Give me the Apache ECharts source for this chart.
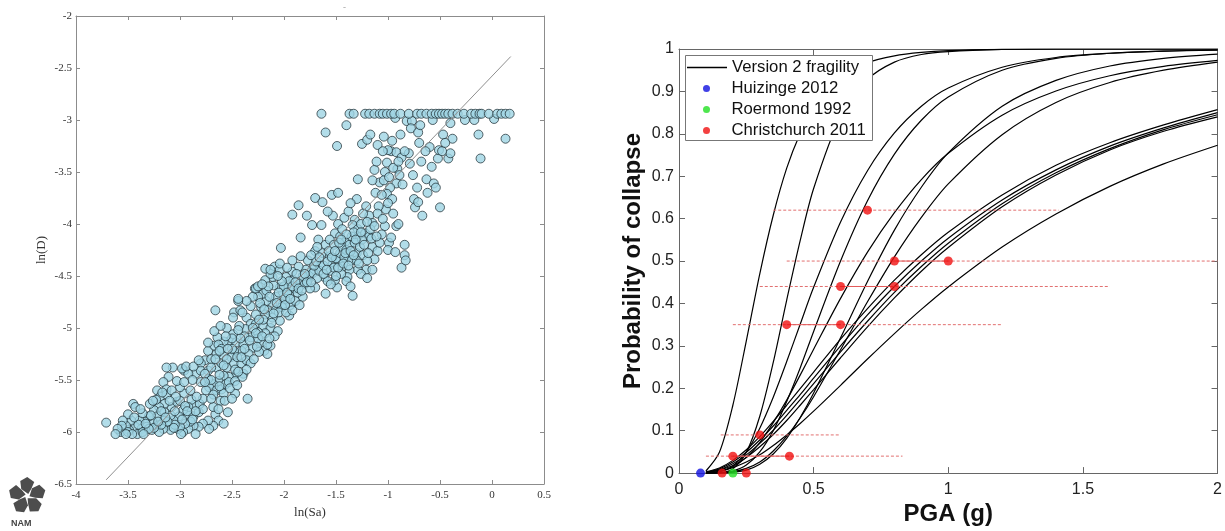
<!DOCTYPE html>
<html>
<head>
<meta charset="utf-8">
<script src="https://cdn.jsdelivr.net/npm/echarts@6/dist/echarts.min.js"></script>
<style>html,body{margin:0;background:#fff}#chart{width:1225px;height:531px}</style>
</head>
<body>
<div id="chart"></div>
<script>
// ---- left panel: ln(D) vs ln(Sa) ----
var capLnD = -2.94;
var cappedLnSa = [-1.64,-1.37,-1.33,-1.22,-1.18,-1.13,-1.08,-1.05,-1.01,-0.97,-0.94,-0.88,-0.80,-0.72,-0.68,-0.63,-0.58,-0.54,-0.51,-0.48,-0.45,-0.42,-0.38,-0.33,-0.27,-0.20,-0.16,-0.12,-0.10,-0.03,0.05,0.09,0.13,0.17];
var lnSaLnD = [
[-1.60,-3.12],[-1.40,-3.05],[-1.49,-3.25],[-1.25,-3.23],[-1.20,-3.19],[-1.17,-3.14],[-1.10,-3.24],[-1.04,-3.16],[-0.97,-3.30],[-0.93,-2.98],[-0.92,-3.31],[-0.88,-3.14],[-0.87,-3.36],[-0.82,-3.01],[-0.77,-3.01],[-0.78,-3.08],[-0.71,-3.12],[-0.70,-3.22],[-0.69,-3.05],[-0.60,-3.26],[-0.57,-3.00],[-0.52,-3.37],[-0.51,-3.29],[-0.47,-3.14],[-0.42,-3.37],[-0.40,-3.32],[-0.40,-3.03],[-0.38,-3.18],[-0.26,-3.00],[-0.17,-3.00],[-0.13,-3.14],[-0.11,-3.37],[0.02,-2.99],[0.13,-3.18],[-1.00,-3.29],[-1.01,-3.41],[-0.91,-3.47],[-0.80,-3.32],[-0.89,-3.53],[-1.03,-3.50],[-1.13,-3.48],[-1.11,-3.40],[-1.08,-3.60],[-0.92,-3.61],[-0.98,-3.65],[-1.01,-3.71],[-0.96,-3.76],[-1.02,-3.86],[-1.09,-3.83],[-1.12,-3.70],[-1.29,-3.57],[-1.30,-3.76],[-1.21,-3.83],[-1.18,-3.92],[-1.32,-3.96],[-1.15,-3.99],[-0.76,-3.53],[-0.72,-3.65],[-0.75,-3.76],[-0.74,-3.84],[-0.71,-3.79],[-0.67,-3.92],[-0.63,-3.57],[-0.62,-3.70],[-0.56,-3.61],[-0.54,-3.65],[-0.50,-3.84],
[-1.70,-3.75],[-1.86,-3.82],[-1.92,-3.91],[-1.54,-3.72],[-1.48,-3.70],[-1.53,-3.92],[-1.42,-3.94],[-1.63,-3.79],[-1.73,-4.01],[-1.64,-4.01],[-1.84,-4.13],[-1.67,-4.15],[-1.51,-4.09],[-1.46,-4.12],[-1.41,-4.17],[-1.48,-4.00],[-1.34,-4.01],[-1.29,-4.05],[-1.29,-4.12],[-1.22,-4.09],[-1.18,-4.12],[-1.15,-4.22],[-1.10,-4.26],[-1.08,-4.18],[-0.99,-4.18],[-0.97,-4.13],[-0.92,-4.02],[-1.03,-4.02],[-0.84,-4.20],[-0.84,-4.30],[-1.13,-4.34],[-1.21,-4.44],[-1.29,-4.44],[-1.15,-4.44],[-1.39,-4.31],[-1.37,-4.44],[-1.34,-4.69],[-1.39,-4.51],[-1.49,-4.61],[-1.60,-4.67],[-1.51,-4.54],[-1.61,-4.51],[-1.70,-4.61],[-1.73,-4.44],[-1.77,-4.35],[-1.84,-4.31],[-1.70,-4.26],[-1.63,-4.28],[-1.56,-4.31],[-1.53,-4.38],[-1.48,-4.35],[-1.44,-4.41],[-1.65,-4.41],[-1.79,-4.44],[-1.86,-4.41],[-1.92,-4.46],[-1.98,-4.51],[-1.91,-4.54],[-1.84,-4.57],[-1.77,-4.54],[-1.96,-4.61],[-2.01,-4.67],[-2.04,-4.61],[-2.08,-4.70],[-2.11,-4.77],[-2.17,-4.74],[-2.20,-4.67],[-2.25,-4.70],[-2.22,-4.80],[-2.15,-4.83],[-2.08,-4.83],[-2.01,-4.77],[-1.94,-4.78],[-1.89,-4.74],[-1.82,-4.70],[-1.95,-4.88],[-2.04,-4.93],[-2.11,-4.90],[-2.18,-4.87],[-2.27,-4.87],[-2.32,-4.79],[-2.30,-4.70],[-2.28,-4.62],[-2.17,-4.64],[-2.10,-4.59],[-2.11,-4.51],[-2.18,-4.54],[-2.09,-4.41],[-2.04,-4.44],[-1.92,-4.35],[-2.13,-4.48],[-2.18,-4.43],[-2.03,-4.23],
[-2.36,-4.74],[-2.44,-4.74],[-2.48,-4.85],[-2.49,-4.90],[-2.42,-4.83],[-2.36,-4.90],[-2.32,-4.96],[-2.27,-4.96],[-2.20,-4.98],[-2.13,-5.00],[-2.06,-5.03],[-2.18,-5.05],[-2.25,-5.04],[-2.32,-5.09],[-2.37,-5.01],[-2.43,-4.98],[-2.49,-5.06],[-2.53,-5.13],[-2.58,-5.13],[-2.46,-5.14],[-2.39,-5.16],[-2.30,-5.19],[-2.22,-5.14],[-2.19,-5.22],[-2.16,-5.25],[-2.24,-5.23],[-2.34,-5.25],[-2.41,-5.22],[-2.48,-5.22],[-2.51,-5.28],[-2.58,-5.27],[-2.65,-5.25],[-2.73,-5.22],[-2.67,-5.17],[-2.64,-5.09],[-2.67,-5.03],[-2.66,-4.83],[-2.73,-5.14],[-2.76,-5.31],[-2.80,-5.34],[-2.85,-5.44],[-2.80,-5.41],[-2.73,-5.41],[-2.65,-5.38],[-2.60,-5.34],[-2.55,-5.38],[-2.48,-5.34],[-2.41,-5.34],[-2.36,-5.31],[-2.32,-5.34],[-2.39,-5.44],[-2.46,-5.44],[-2.53,-5.47],[-2.58,-5.46],[-2.63,-5.51],[-2.68,-5.54],[-2.73,-5.49],[-2.80,-5.52],[-2.72,-5.57],[-2.65,-5.60],[-2.60,-5.59],[-2.56,-5.54],[-2.53,-5.52],[-2.47,-5.51],[-2.40,-5.47],[-2.58,-5.63],[-2.61,-5.70],[-2.57,-5.70],[-2.68,-5.64],[-2.47,-5.63],[-2.35,-5.68],[-2.54,-5.81],[-2.66,-5.83],[-2.63,-5.89],[-2.58,-5.92],[-2.68,-5.94],[-2.73,-5.89],[-2.78,-5.92],[-2.82,-5.95],[-2.72,-5.97],[-2.87,-5.94],[-2.92,-5.97],[-2.97,-6.00],[-3.02,-5.97],[-2.92,-5.84],[-2.87,-5.85],[-2.82,-5.81],[-2.86,-5.74],[-2.81,-5.73],[-2.89,-5.69],[-2.92,-5.76],[-2.97,-5.79],[-3.01,-5.85],[-3.06,-5.89],[-3.09,-5.84],[-3.08,-5.76],[-3.03,-5.71],[-2.96,-5.63],[-3.00,-5.57],[-3.03,-5.51],[-2.96,-5.41],[-2.92,-5.44],[-2.98,-5.39],[-3.07,-5.38],[-3.13,-5.38],[-3.11,-5.47],[-3.16,-5.52],[-3.22,-5.60],[-3.13,-5.59],[-3.19,-5.66],[-3.13,-5.64],[-3.08,-5.60],[-3.15,-5.73],[-3.20,-5.76],[-3.25,-5.79],[-3.15,-5.81],[-3.22,-5.85],[-3.15,-5.89],[-3.11,-5.94],[-3.09,-5.98],[-3.16,-5.97],[-3.23,-5.94],[-3.27,-5.89],[-3.30,-5.85],[-3.34,-5.90],[-3.29,-5.73],[-3.23,-5.69],[-3.39,-5.89],[-3.43,-5.95],[-3.37,-5.97],[-3.32,-5.95],[-3.27,-5.98],[-3.49,-5.98],[-3.47,-5.89],[-3.45,-5.73],[-3.43,-5.76],[-3.52,-5.94],[-3.50,-5.83],[-3.55,-5.89],[-3.57,-6.00],[-3.56,-5.94],[-3.71,-5.91],[-3.50,-6.00],[-3.41,-6.02],[-3.36,-6.00],[-3.20,-6.00],[-2.94,-5.37],[-2.87,-5.37],[-2.82,-5.31],[-2.44,-4.72],[-2.63,-5.16],[-2.27,-4.62],[-2.13,-4.44],[-2.04,-4.38],[-2.13,-5.17],[-2.16,-5.16],
[-1.95,-4.68],[-1.99,-4.72],[-2.02,-4.80],[-1.90,-4.62],[-1.87,-4.66],[-1.80,-4.58],[-1.76,-4.50],[-1.72,-4.47],[-1.68,-4.52],[-1.66,-4.45],[-1.62,-4.40],[-1.58,-4.36],[-1.55,-4.45],[-1.52,-4.42],[-1.50,-4.33],[-1.46,-4.28],[-1.44,-4.22],[-1.42,-4.32],[-1.40,-4.25],[-1.37,-4.20],[-1.35,-4.12],[-1.32,-4.18],[-1.30,-4.28],[-1.27,-4.22],[-1.25,-4.15],[-1.24,-4.30],[-1.20,-4.35],[-1.17,-4.05],[-1.26,-4.00],[-1.33,-4.08],[-1.44,-4.05],[-1.40,-4.10],[-2.05,-4.85],[-2.12,-4.95],[-2.20,-4.92],[-2.25,-5.10],[-2.30,-5.00],[-2.38,-5.08],[-2.42,-5.10],[-2.45,-5.28],[-2.50,-5.20],[-2.55,-5.30],[-2.62,-5.45],[-2.70,-5.50],[-2.75,-5.60],[-2.78,-5.78],[-2.85,-5.80],[-2.90,-5.90],[-2.95,-5.92],[-3.00,-5.95],[-3.05,-5.93],[-3.12,-5.90],[-3.18,-5.93],[-3.25,-5.96],[-3.30,-5.97],[-3.35,-6.02],[-3.46,-6.02],[-3.40,-5.93],[-3.05,-5.80],[-3.00,-5.70],[-2.95,-5.75],[-3.18,-5.80],[-1.60,-4.20],[-1.56,-4.15],[-1.52,-4.20],[-1.35,-4.35],[-1.30,-4.35],[-1.45,-4.48],[-1.40,-4.55],[-1.58,-4.55],[-1.75,-4.62],[-1.82,-4.50],[-1.88,-4.48],[-1.95,-4.55],[-2.00,-4.60],[-1.98,-4.85],[-1.92,-4.83],[-1.85,-4.78],[-1.10,-3.90],[-1.05,-3.95],[-1.00,-3.80],[-0.95,-3.90],[-0.90,-4.00],[-1.06,-4.10],[-1.00,-4.25],[-0.93,-4.27],[-0.87,-4.42],[-0.83,-4.35],[-1.20,-3.98],[-1.24,-3.90],[-1.38,-3.88],[-1.36,-3.80],[-1.58,-3.88],[-1.78,-3.92],[-2.25,-4.60],[-2.40,-4.85],[-2.55,-5.00],[-2.60,-5.20],[-2.70,-5.30],[-2.88,-5.50],[-2.78,-5.68],[-2.68,-5.76],[-2.52,-5.58],[-2.45,-5.55],[-2.85,-6.02],[-2.99,-6.02],[-3.60,-5.97],
[-3.33,-5.92],[-3.28,-5.84],[-3.21,-5.90],[-3.14,-5.86],[-3.06,-5.96],[-2.98,-5.88],[-2.93,-5.80],[-2.88,-5.88],[-2.84,-5.66],[-2.90,-5.60],[-2.96,-5.52],[-3.04,-5.66],[-3.10,-5.70],[-3.17,-5.62],[-3.26,-5.70],[-3.36,-5.82],[-3.44,-5.86],[-3.52,-6.02],[-3.62,-6.02],[-3.38,-5.78],
[-2.76,-5.44],[-2.70,-5.38],[-2.66,-5.30],[-2.62,-5.22],[-2.58,-5.36],[-2.54,-5.20],[-2.50,-5.10],[-2.47,-5.40],[-2.44,-5.02],[-2.41,-5.28],[-2.38,-5.20],[-2.36,-5.40],[-2.33,-5.12],[-2.29,-5.30],[-2.27,-5.05],[-2.24,-4.92],[-2.21,-5.08],[-2.62,-5.56],[-2.70,-5.68],[-2.76,-5.52],[-2.63,-5.78],[-2.50,-5.68],[-2.44,-5.42],[-2.56,-5.08],[-2.61,-4.98],
[-2.23,-4.76],[-2.19,-4.82],[-2.14,-4.70],[-2.10,-4.86],[-2.07,-4.76],[-2.05,-4.66],[-2.02,-4.55],[-1.99,-4.78],[-1.97,-4.66],[-1.94,-4.72],[-1.92,-4.60],[-1.89,-4.56],[-1.86,-4.62],[-1.83,-4.64],[-1.80,-4.48],[-1.78,-4.56],[-1.74,-4.56],[-1.71,-4.40],[-2.15,-4.60],[-2.21,-4.58],[-2.06,-4.50],[-1.97,-4.42],[-2.09,-5.08],[-2.14,-5.10],[-2.26,-5.18],
[-1.69,-4.36],[-1.66,-4.32],[-1.62,-4.48],[-1.59,-4.44],[-1.57,-4.26],[-1.54,-4.32],[-1.51,-4.26],[-1.48,-4.42],[-1.47,-4.18],[-1.43,-4.38],[-1.41,-4.28],[-1.38,-4.40],[-1.36,-4.26],[-1.33,-4.30],[-1.31,-4.15],[-1.28,-4.38],[-1.26,-4.08],[-1.23,-4.20],[-1.19,-4.28],[-1.16,-4.14],[-1.13,-4.02],[-1.11,-4.12],[-1.45,-4.15],[-1.50,-4.50],[-1.55,-4.58],[-1.68,-4.22],[-1.74,-4.30],[-1.36,-4.60],[-1.26,-4.48],[-1.20,-4.52],
[-1.06,-3.72],[-1.04,-3.58],[-0.99,-3.55],[-0.95,-3.46],[-0.90,-3.40],[-0.86,-3.62],[-0.84,-3.30],[-0.79,-3.42],[-0.68,-3.40],[-0.64,-3.30],[-0.58,-3.45],[-0.48,-3.30],[-0.45,-3.22],[-0.96,-3.20],[-1.15,-3.58],[-1.05,-3.30]
];
var fitLine = [[-3.71, -6.46], [0.18, -2.39]];

// ---- right panel: fragility curves ----
var pga = [0.1,0.15,0.2,0.25,0.3,0.35,0.4,0.45,0.5,0.6,0.7,0.8,0.9,1.0,1.2,1.4,1.6,1.8,2.0];
var fragility = [
  [0.005,0.049,0.160,0.312,0.470,0.608,0.719,0.801,0.861,0.933,0.968,0.984,0.992,0.996,0.999,1,1,1,1],
  [0,0.001,0.010,0.049,0.134,0.261,0.408,0.548,0.671,0.840,0.928,0.969,0.987,0.994,0.999,1,1,1,1],
  [0,0.003,0.017,0.050,0.106,0.179,0.263,0.351,0.438,0.592,0.713,0.802,0.865,0.908,0.957,0.980,0.990,0.995,0.997],
  [0,0.001,0.005,0.019,0.050,0.100,0.169,0.248,0.334,0.500,0.642,0.752,0.832,0.887,0.950,0.978,0.990,0.995,0.998],
  [0,0.004,0.015,0.037,0.072,0.119,0.172,0.231,0.292,0.412,0.521,0.614,0.692,0.754,0.844,0.901,0.937,0.959,0.973],
  [0,0,0.002,0.007,0.021,0.045,0.082,0.131,0.189,0.319,0.452,0.573,0.674,0.755,0.865,0.926,0.960,0.978,0.988],
  [0,0,0.003,0.011,0.026,0.052,0.087,0.130,0.180,0.291,0.404,0.510,0.603,0.682,0.798,0.874,0.921,0.950,0.969],
  [0.003,0.012,0.030,0.055,0.086,0.122,0.160,0.199,0.238,0.316,0.388,0.455,0.515,0.568,0.656,0.726,0.779,0.821,0.857],
  [0.002,0.010,0.026,0.049,0.078,0.111,0.148,0.185,0.224,0.300,0.373,0.440,0.500,0.554,0.644,0.715,0.771,0.814,0.850],
  [0.002,0.008,0.022,0.043,0.070,0.101,0.136,0.173,0.211,0.286,0.358,0.426,0.487,0.542,0.635,0.708,0.765,0.810,0.845],
  [0.001,0.007,0.018,0.037,0.062,0.091,0.124,0.160,0.197,0.272,0.345,0.413,0.476,0.532,0.628,0.703,0.762,0.806,0.840],
  [0.001,0.004,0.013,0.026,0.043,0.065,0.090,0.117,0.146,0.207,0.269,0.329,0.386,0.439,0.533,0.611,0.676,0.729,0.773]
];
var huizinge = [[0.08, 0]];
var roermond = [[0.2, 0]];
var christchurch = [[0.7,0.62],[0.8,0.5],[1.0,0.5],[0.6,0.44],[0.8,0.44],[0.4,0.35],[0.6,0.35],[0.3,0.09],[0.2,0.04],[0.41,0.04],[0.16,0],[0.25,0]];
// [probability, pga from, pga to]
var pgaRanges = [[0.62,0.35,1.41],[0.5,0.40,2.0],[0.44,0.30,1.60],[0.35,0.20,1.20],[0.09,0.155,0.60],[0.04,0.10,0.83]];
var rangeLinks = [[0.5,0.8,1.0],[0.44,0.6,0.8],[0.35,0.4,0.6],[0.04,0.2,0.41]];

var serif = 'Liberation Serif', sans = 'Liberation Sans';
var chart = echarts.init(document.getElementById('chart'), null, {renderer: 'canvas'});

function frameAxis(grid, pos, min, max, step, color, tickLen, label) {
  return {
    type: 'value', gridIndex: grid, position: pos, min: min, max: max, interval: step,
    axisLine: {onZero: false, lineStyle: {color: color, width: 1}},
    axisTick: {inside: true, length: tickLen, lineStyle: {color: color}},
    axisLabel: label ? label : {show: false},
    splitLine: {show: false}
  };
}
var leftLabel = {fontFamily: serif, fontSize: 11, color: '#333', showMinLabel: true, showMaxLabel: true};
var rightLabel = {fontFamily: sans, fontSize: 16, color: '#222', showMinLabel: true, showMaxLabel: true};

var xA0 = frameAxis(0, 'bottom', -4, 0.5, 0.5, '#8c8c8c', 4, Object.assign({margin: 6}, leftLabel));
xA0.name = 'ln(Sa)'; xA0.nameLocation = 'middle'; xA0.nameGap = 19;
xA0.nameTextStyle = {fontFamily: serif, fontSize: 13, color: '#333'};
var yA0 = frameAxis(0, 'left', -6.5, -2, 0.5, '#8c8c8c', 4, Object.assign({margin: 4}, leftLabel));
yA0.name = 'ln(D)'; yA0.nameLocation = 'middle'; yA0.nameGap = 28;
yA0.nameTextStyle = {fontFamily: serif, fontSize: 13, color: '#333'};
var xA2 = frameAxis(1, 'bottom', 0, 2, 0.5, '#666', 6, Object.assign({margin: 8}, rightLabel));
xA2.name = 'PGA (g)'; xA2.nameLocation = 'middle'; xA2.nameGap = 24;
xA2.nameTextStyle = {fontFamily: sans, fontSize: 24, fontWeight: 'bold', color: '#111'};
var yA2 = frameAxis(1, 'left', 0, 1, 0.1, '#666', 6, Object.assign({margin: 5}, rightLabel));
yA2.name = 'Probability of collapse'; yA2.nameLocation = 'middle'; yA2.nameGap = 34;
yA2.nameTextStyle = {fontFamily: sans, fontSize: 24, fontWeight: 'bold', color: '#111'};

var series = [];
series.push({
  type: 'scatter', xAxisIndex: 0, yAxisIndex: 0, silent: true,
  data: lnSaLnD.concat(cappedLnSa.map(function (x) { return [x, capLnD]; })),
  symbolSize: 9,
  itemStyle: {color: '#9fd5e3', borderColor: '#1a2a30', borderWidth: 0.9}
});
series.push({
  type: 'line', xAxisIndex: 0, yAxisIndex: 0, data: fitLine, symbol: 'none', silent: true,
  lineStyle: {color: '#8f8f8f', width: 1}, z: 3
});
fragility.forEach(function (p) {
  series.push({
    name: 'Version 2 fragility', type: 'line', xAxisIndex: 2, yAxisIndex: 2,
    data: pga.map(function (x, i) { return [x, p[i]]; }),
    symbol: 'none', smooth: 0.3, silent: true,
    lineStyle: {color: '#000', width: 1.2}, itemStyle: {color: '#000'}
  });
});
pgaRanges.forEach(function (r) {
  series.push({
    name: 'range', type: 'line', xAxisIndex: 2, yAxisIndex: 2, data: [[r[1], r[0]], [r[2], r[0]]],
    symbol: 'none', silent: true, lineStyle: {color: '#e27070', width: 1, type: [3, 2]}, z: 3
  });
});
rangeLinks.forEach(function (r) {
  series.push({
    name: 'link', type: 'line', xAxisIndex: 2, yAxisIndex: 2, data: [[r[1], r[0]], [r[2], r[0]]],
    symbol: 'none', silent: true, lineStyle: {color: '#e25a5a', width: 1}, z: 3
  });
});
[['Huizinge 2012', huizinge, '#1010e0'], ['Roermond 1992', roermond, '#22e022'], ['Christchurch 2011', christchurch, '#f01010']].forEach(function (s) {
  series.push({
    name: s[0], type: 'scatter', xAxisIndex: 2, yAxisIndex: 2, data: s[1], symbolSize: 9,
    symbolKeepAspect: true, silent: true, itemStyle: {color: s[2]}, z: 5
  });
});

// NAM logo (pinwheel) + caption
var petals = [];
for (var k = 0; k < 5; k++) {
  petals.push({
    type: 'polygon', rotation: -k * Math.PI * 2 / 5,
    shape: {points: [[1, -2], [-6, -7], [-7, -15], [0, -19], [7, -14], [4, -7]]},
    style: {fill: '#4d4d4d'}
  });
}

var legendText = {fontFamily: sans, fontSize: 16.7, color: '#111'};
chart.setOption({
  backgroundColor: '#fff',
  animation: false,
  grid: [
    {left: 76, top: 16, width: 468, height: 468},
    {left: 679, top: 49, width: 539, height: 425}
  ],
  xAxis: [xA0, frameAxis(0, 'top', -4, 0.5, 0.5, '#8c8c8c', 4), xA2, frameAxis(1, 'top', 0, 2, 0.5, '#666', 6)],
  yAxis: [yA0, frameAxis(0, 'right', -6.5, -2, 0.5, '#8c8c8c', 4), yA2, frameAxis(1, 'right', 0, 1, 0.1, '#666', 6)],
  legend: [{
    data: [{name: 'Version 2 fragility', icon: 'rect'}],
    left: 687, top: 59, itemWidth: 40, itemHeight: 1.3, padding: 0,
    selectedMode: false, textStyle: legendText, z: 6
  }, {
    data: ['Huizinge 2012', 'Roermond 1992', 'Christchurch 2011'],
    orient: 'vertical', left: 703, top: 80, itemWidth: 40, itemHeight: 7, itemGap: 4, padding: 0,
    icon: 'circle', selectedMode: false, textStyle: legendText, z: 6
  }],
  graphic: [
    {type: 'rect', left: 685, top: 55, z: 5, shape: {width: 187, height: 85},
      style: {fill: '#fff', stroke: '#777', lineWidth: 1}},
    {type: 'group', left: 7, top: 477, children: [{type: 'group', x: 18, y: 19, children: petals}]},
    {type: 'text', left: 11, top: 519, style: {text: 'NAM', fontFamily: sans, fontWeight: 'bold', fontSize: 9, fill: '#444'}},
    {type: 'text', left: 343, top: 3, style: {text: '-', fontFamily: serif, fontSize: 9, fill: '#999'}}
  ],
  series: series
});
</script>
</body>
</html>
